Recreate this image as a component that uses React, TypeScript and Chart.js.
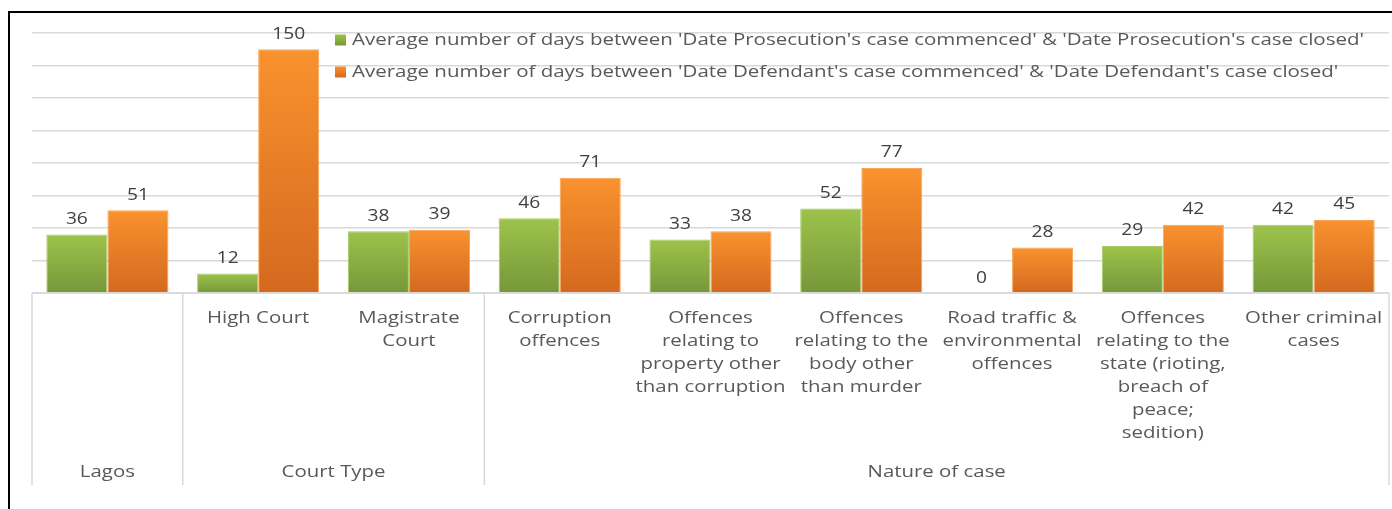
import React, { useEffect, useRef } from "react";
import { Chart, registerables } from "chart.js";

Chart.register(...registerables);

// ---- data ----
const categoryLines: string[][] = [
  [""],
  ["High Court"],
  ["Magistrate", "Court"],
  ["Corruption", "offences"],
  ["Offences", "relating to", "property other", "than corruption"],
  ["Offences", "relating to the", "body other", "than murder"],
  ["Road traffic &", "environmental", "offences"],
  ["Offences", "relating to the", "state (rioting,", "breach of", "peace;", "sedition)"],
  ["Other criminal", "cases"],
];
const groupLabels = ["Lagos", "Court Type", "Nature of case"];
const groupSpans = [1, 2, 6];
const prosecutionDays = [36, 12, 38, 46, 33, 52, 0, 29, 42];
const defendantDays = [51, 150, 39, 71, 38, 77, 28, 42, 45];
const seriesNames = [
  "Average number of days between 'Date Prosecution's case commenced' & 'Date Prosecution's case closed'",
  "Average number of days between 'Date Defendant's case commenced' & 'Date Defendant's case closed'",
];
const yMax = 160;
const yStep = 20;

// ---- styles ----
const FONT = '"Open Sans", sans-serif';
const SX = 1.2;
const LEGEND_SX = 1.28;
const GREEN_TOP = "#9DC34B";
const GREEN_BOTTOM = "#76973A";
const ORANGE_TOP = "#F9922E";
const ORANGE_BOTTOM = "#D4691F";
const TEXT = "#595959";
const GRID = "#D9D9D9";

function drawText(
  ctx: CanvasRenderingContext2D,
  text: string,
  x: number,
  y: number,
  align: "left" | "center",
  size: number,
  color: string,
  sx: number = SX
) {
  ctx.save();
  ctx.font = `${size}px ${FONT}`;
  ctx.fillStyle = color;
  ctx.textBaseline = "middle";
  ctx.textAlign = "left";
  const w = ctx.measureText(text).width * sx;
  const left = align === "center" ? x - w / 2 : x;
  ctx.translate(left, y);
  ctx.scale(sx, 1);
  ctx.fillText(text, 0, 0);
  ctx.restore();
}

function barGradient(top: string, bottom: string, fallback: string) {
  return (c: any) => {
    const chart = c.chart;
    if (!chart.chartArea || c.type !== "data" || !chart.scales.y) return fallback;
    const ys = chart.scales.y;
    const t = ys.getPixelForValue(c.raw);
    const b = ys.getPixelForValue(0);
    if (b - t < 1) return fallback;
    const g = chart.ctx.createLinearGradient(0, t, 0, b);
    g.addColorStop(0, top);
    g.addColorStop(1, bottom);
    return g;
  };
}

const overlayPlugin = {
  id: "overlay",
  afterDatasetsDraw(chart: any) {
    const ctx = chart.ctx;
    chart.data.datasets.forEach((ds: any, di: number) => {
      const meta = chart.getDatasetMeta(di);
      meta.data.forEach((el: any, i: number) => {
        drawText(ctx, String(ds.data[i]), el.x, el.y - 15, "center", 16, "#404040");
      });
    });
  },
  afterDraw(chart: any) {
    const ctx = chart.ctx;
    const { chartArea } = chart;
    const xs = chart.scales.x;
    const n = categoryLines.length;
    const bottomY = chartArea.bottom + 192;

    // axis box
    ctx.save();
    ctx.strokeStyle = GRID;
    ctx.lineWidth = 1.5;
    ctx.beginPath();
    ctx.moveTo(chartArea.left, chartArea.bottom);
    ctx.lineTo(chartArea.right, chartArea.bottom);
    const bounds: number[] = [chartArea.left];
    let idx = 0;
    groupSpans.forEach((s) => {
      idx += s;
      if (idx >= n) bounds.push(chartArea.right);
      else bounds.push((xs.getPixelForTick(idx - 1) + xs.getPixelForTick(idx)) / 2);
    });
    bounds.forEach((bx) => {
      ctx.moveTo(bx, chartArea.bottom);
      ctx.lineTo(bx, bottomY);
    });
    ctx.stroke();
    ctx.restore();

    // level-1 labels
    categoryLines.forEach((lines, i) => {
      const cx = xs.getPixelForTick(i);
      lines.forEach((ln, j) => {
        if (ln) drawText(ctx, ln, cx, chartArea.bottom + 25 + j * 23, "center", 17, TEXT);
      });
    });

    // level-2 labels
    groupLabels.forEach((g, k) => {
      const cx = (bounds[k] + bounds[k + 1]) / 2;
      drawText(ctx, g, cx, chartArea.bottom + 179, "center", 17, TEXT);
    });

    // legend
    const legendX = 325;
    const legendYs = [27, 59];
    const cols = [
      [GREEN_TOP, GREEN_BOTTOM],
      [ORANGE_TOP, ORANGE_BOTTOM],
    ];
    seriesNames.forEach((name, k) => {
      const y = legendYs[k];
      const g = ctx.createLinearGradient(0, y - 5.5, 0, y + 5.5);
      g.addColorStop(0, cols[k][0]);
      g.addColorStop(1, cols[k][1]);
      ctx.save();
      ctx.fillStyle = g;
      ctx.fillRect(legendX, y - 5.5, 11, 11);
      ctx.restore();
      drawText(ctx, name, legendX + 17, y, "left", 16, TEXT, LEGEND_SX);
    });
  },
};

export default function App() {
  const canvasRef = useRef<HTMLCanvasElement | null>(null);

  useEffect(() => {
    if (!canvasRef.current) return;
    const chart = new Chart(canvasRef.current, {
      type: "bar",
      data: {
        labels: categoryLines.map((l) => l.join(" ")),
        datasets: [
          {
            label: seriesNames[0],
            data: prosecutionDays,
            backgroundColor: barGradient(GREEN_TOP, GREEN_BOTTOM, GREEN_BOTTOM) as any,
            borderColor: "#A8CB66",
            borderWidth: 1,
          },
          {
            label: seriesNames[1],
            data: defendantDays,
            backgroundColor: barGradient(ORANGE_TOP, ORANGE_BOTTOM, ORANGE_BOTTOM) as any,
            borderColor: "#FAA457",
            borderWidth: 1,
          },
        ],
      },
      options: {
        animation: false,
        responsive: true,
        maintainAspectRatio: false,
        layout: { padding: { top: 20, left: 22, right: 3, bottom: 0 } },
        datasets: { bar: { categoryPercentage: 0.81, barPercentage: 1 } },
        plugins: { legend: { display: false }, tooltip: { enabled: false } },
        scales: {
          x: {
            type: "category",
            offset: true,
            grid: { display: false },
            border: { display: false },
            ticks: { display: false },
            afterFit: (s: any) => {
              s.height = 216;
            },
          },
          y: {
            min: 0,
            max: yMax,
            ticks: { display: false, stepSize: yStep },
            grid: { color: GRID, lineWidth: 1.5, drawTicks: false },
            border: { display: false },
          },
        },
      },
      plugins: [overlayPlugin],
    });
    return () => chart.destroy();
  }, []);

  return (
    <div
      style={{
        position: "fixed",
        left: 8,
        top: 11,
        width: 1384,
        height: 498,
        boxSizing: "border-box",
        borderTop: "2px solid #000",
        borderLeft: "2px solid #000",
        background: "#fff",
      }}
    >
      <div style={{ position: "relative", width: 1382, height: 496 }}>
        <canvas ref={canvasRef} />
      </div>
    </div>
  );
}
